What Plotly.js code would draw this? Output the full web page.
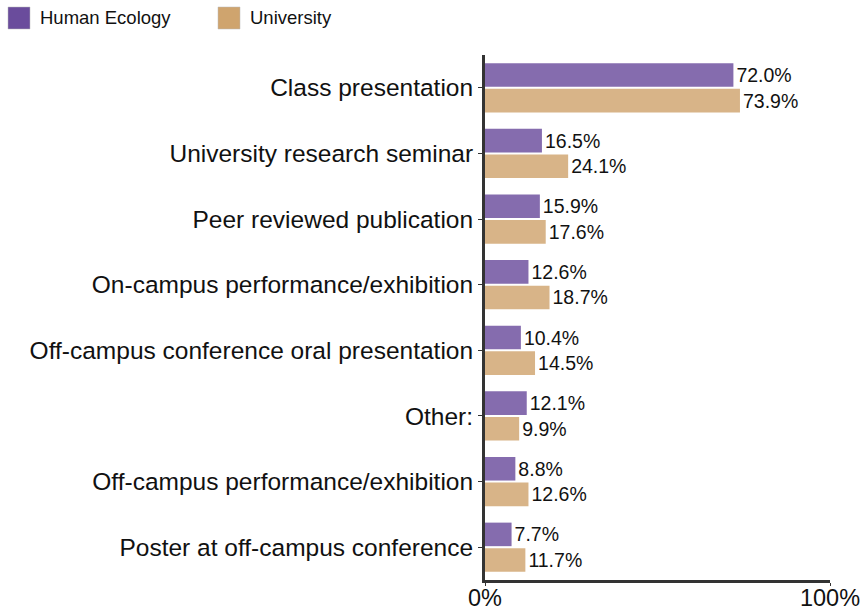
<!DOCTYPE html>
<html>
<head>
<meta charset="utf-8">
<script src="https://cdn.plot.ly/plotly-3.0.1.min.js"></script>
<style>html,body{margin:0;padding:0;background:#fff;}#chart{width:863px;height:613px;}</style>
</head>
<body>
<div id="chart"></div>
<script>
const categories = [
  "Class presentation",
  "University research seminar",
  "Peer reviewed publication",
  "On-campus performance/exhibition",
  "Off-campus conference oral presentation",
  "Other:",
  "Off-campus performance/exhibition",
  "Poster at off-campus conference"
];
const humanEcology = [72.0, 16.5, 15.9, 12.6, 10.4, 12.1, 8.8, 7.7];
const university = [73.9, 24.1, 17.6, 18.7, 14.5, 9.9, 12.6, 11.7];
const seriesNames = ["Human Ecology", "University"];
const seriesColors = ["#6A4C9C", "#CFA46E"];
const xTickVals = [0, 100];
const xTickText = ["0%", "100%"];

const font = "Liberation Sans, Arial, sans-serif";
const W = 863, H = 613;
const M = {l: 485, r: 33, t: 55, b: 33};
const pw = W - M.l - M.r, ph = H - M.t - M.b;
const px2x = p => (p - M.l) / pw;
const py2y = p => 1 - (p - M.t) / ph;

function mk(name, vals, color) {
  return {
    type: "bar", orientation: "h", name: name,
    y: categories, x: vals,
    marker: {color: color, opacity: 0.82},
    text: vals.map(v => v.toFixed(1) + "%"),
    textposition: "outside", cliponaxis: false,
    textfont: {family: font, size: 19.5, color: "#111"},
    hoverinfo: "none", showlegend: false
  };
}
const traces = [
  mk(seriesNames[0], humanEcology, seriesColors[0]),
  mk(seriesNames[1], university, seriesColors[1])
];

// manual legend (swatches + labels)
const legendX = [8, 218];
const shapes = [], annotations = [];
seriesNames.forEach((n, i) => {
  shapes.push({
    type: "rect", xref: "paper", yref: "paper",
    x0: px2x(legendX[i]), x1: px2x(legendX[i] + 22),
    y0: py2y(29), y1: py2y(7),
    fillcolor: seriesColors[i], line: {color: "#bbb", width: 0.5}
  });
  annotations.push({
    xref: "paper", yref: "paper",
    x: px2x(legendX[i] + 30), y: py2y(18),
    xanchor: "left", yanchor: "middle", showarrow: false,
    text: n, font: {family: font, size: 18.5, color: "#111"}
  });
});

const layout = {
  width: W, height: H,
  margin: M,
  paper_bgcolor: "#fff", plot_bgcolor: "#fff",
  font: {family: font, color: "#111"},
  barmode: "group", bargap: 0.22, bargroupgap: 0.08,
  showlegend: false,
  shapes: shapes, annotations: annotations,
  xaxis: {
    range: [0, 100], tickvals: xTickVals, ticktext: xTickText,
    showgrid: false, zeroline: false,
    showline: true, linecolor: "#333", linewidth: 3,
    ticks: "outside", ticklen: 3, tickcolor: "#333",
    ticklabelstandoff: -8,
    tickfont: {family: font, size: 23.5, color: "#111"},
    automargin: false, fixedrange: true
  },
  yaxis: {
    autorange: "reversed", showgrid: false, zeroline: false,
    showline: true, linecolor: "#333", linewidth: 3,
    ticks: "outside", ticklen: 4, tickcolor: "#333",
    tickfont: {family: font, size: 24.5, color: "#111"},
    automargin: false, fixedrange: true
  }
};
Plotly.newPlot("chart", traces, layout, {displayModeBar: false, staticPlot: true});
</script>
</body>
</html>
